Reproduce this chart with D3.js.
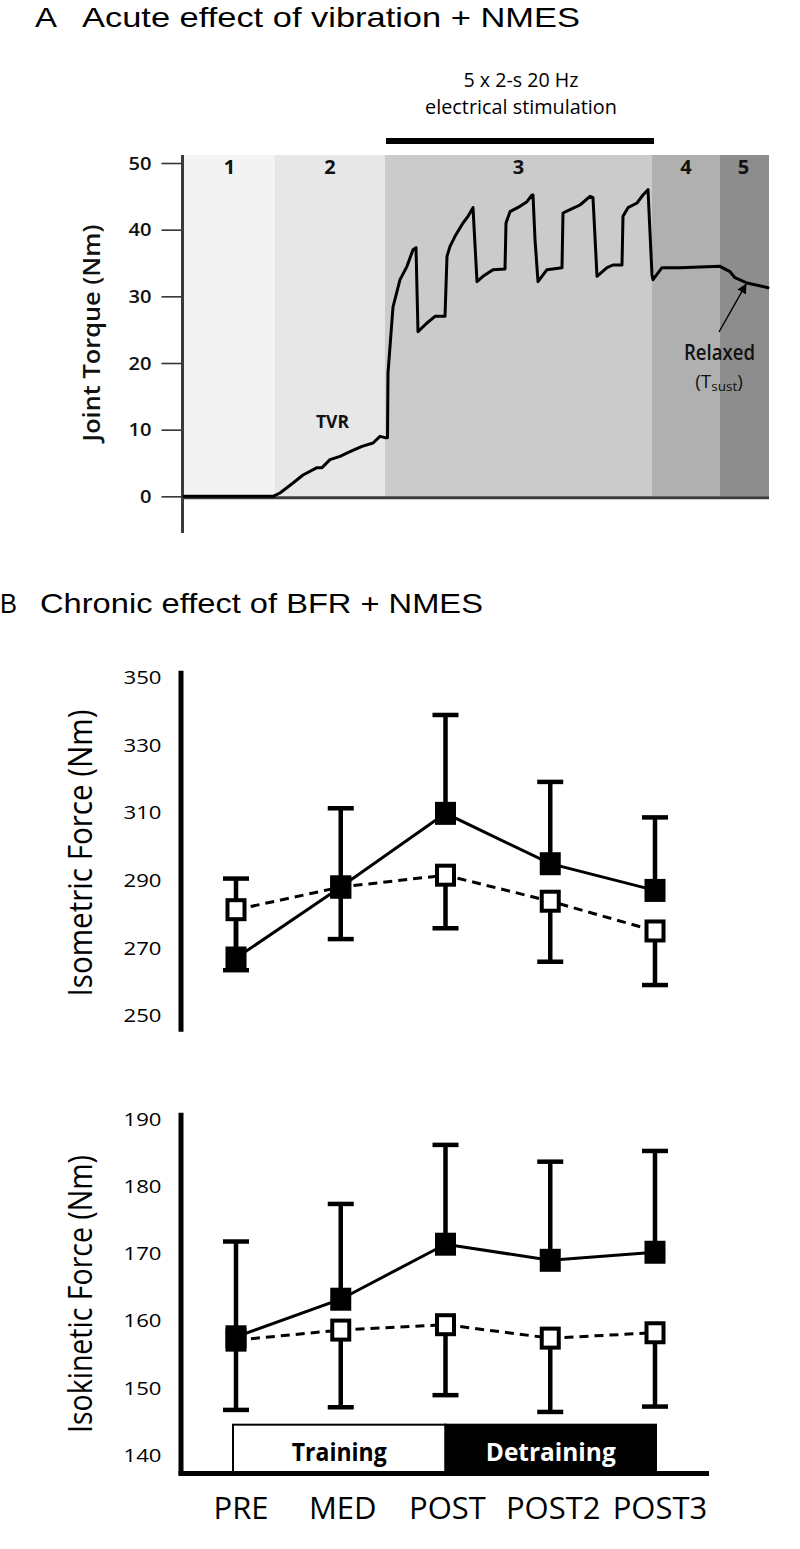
<!DOCTYPE html>
<html>
<head>
<meta charset="utf-8">
<script src="https://cdn.jsdelivr.net/npm/d3@7"></script>
<style>
  html, body { margin: 0; padding: 0; background: #fff; }
  svg { display: block; }
</style>
</head>
<body>
<svg id="chart" width="800" height="1549"></svg>
<script>
// ---------------- DATA ----------------
// Panel A: joint torque trace (time in s, torque in Nm)
const torqueTrace = [
  [0, 0], [8.9, 0], [9.6, 0.5], [10.9, 2], [11.9, 3.2], [13.3, 4.3], [13.8, 4.3], [14.6, 5.5],
  [15.6, 6], [16.6, 6.7], [17.8, 7.5], [18.9, 8], [19.6, 9], [20.1, 8.8], [20.35, 8.8],
  [20.4, 18.5], [20.9, 28.4], [21.6, 32.5], [22.3, 34.5], [22.9, 37], [23.2, 37.3],
  [23.4, 24.7], [24.3, 26], [25.1, 27], [26.1, 27],
  [26.3, 36], [26.6, 37.5], [27.1, 39], [27.9, 41], [28.4, 42], [28.9, 43.3],
  [29.3, 32.2], [29.9, 33], [30.9, 34], [32.1, 34.1],
  [32.2, 41], [32.6, 42.7], [33.6, 43.5], [34.3, 44.2], [34.8, 45.2], [34.9, 45.2],
  [35.1, 38.5], [35.4, 32.2], [36.3, 34], [37.8, 34.3],
  [37.9, 42.5], [38.6, 43], [39.6, 43.7], [40.6, 45], [40.9, 44.8],
  [41.3, 33], [42.3, 34.3], [42.9, 34.7], [43.8, 34.7],
  [43.9, 42], [44.4, 43.3], [45.3, 44], [45.9, 45.2], [46.4, 46],
  [46.8, 33.2], [46.9, 32.5], [47.8, 34.3], [49.6, 34.3], [53.6, 34.5], [54.6, 33.7],
  [55.1, 32.8], [56.3, 32], [58.4, 31.3]
];
const phaseLabels = ["1", "2", "3", "4", "5"];
const phaseBounds = [0, 9.1, 20.1, 46.8, 53.6, 58.5];
const phaseColors = ["#f3f3f3", "#e7e7e7", "#cbcbcb", "#b0b0b0", "#8d8d8d"];
const stimWindow = [20.2, 47.0];
const torqueTicks = [0, 10, 20, 30, 40, 50];
const relaxedPoint = [56.2, 31.8];

// Panel B
const timepoints = ["PRE", "MED", "POST", "POST2", "POST3"];
const isoBFR = [267.0, 288.0, 309.8, 294.9, 287.0];
const isoBFRsd = [23.5, 23.3, 29.1, 24.2, 21.6];
const isoCON = [281.3, 288.0, 291.5, 283.8, 275.0];
const isoCONsd = [17.9, 15.4, 15.7, 17.9, 16.0];
const isoTicks = [250, 270, 290, 310, 330, 350];

const isokBFR = [157.6, 163.2, 171.4, 169.0, 170.2];
const isokBFRsd = [14.2, 14.2, 14.8, 14.7, 15.1];
const isokCON = [157.1, 158.6, 159.4, 157.4, 158.2];
const isokCONsd = [10.4, 11.5, 10.5, 11.0, 11.0];
const isokTicks = [140, 150, 160, 170, 180, 190];

const periods = [
  { label: "Training", from: "PRE", to: "POST" },
  { label: "Detraining", from: "POST", to: "POST3" }
];

// ---------------- HELPERS ----------------
const FONT = "'Open Sans', 'Noto Sans', 'Liberation Sans', sans-serif";
const TITLE_FONT = "'Liberation Sans', Arial, sans-serif";
const svg = d3.select("#chart");

function txt(g, o) {
  const t = g.append("text")
    .attr("font-family", o.family || FONT)
    .attr("font-size", o.size)
    .attr("font-weight", o.weight || 400)
    .attr("text-anchor", o.anchor || "start")
    .attr("fill", o.fill || "#000")
    .text(o.text);
  let sx = 1;
  if (o.width) sx = o.width / t.node().getComputedTextLength();
  t.attr("transform", `translate(${o.x},${o.y}) rotate(${o.rotate || 0}) scale(${sx},1)`);
  return t;
}

// ================= PANEL A =================
const gA = svg.append("g");
const xA = d3.scaleLinear().domain([0, 58.5]).range([184, 769]);
const yA = d3.scaleLinear().domain([-5.5, 51.2]).range([533, 155]);

txt(gA, { x: 35, y: 27, text: "A", size: 28, family: TITLE_FONT, width: 22 });
txt(gA, { x: 82, y: 27, text: "Acute effect of vibration + NMES", size: 28, family: TITLE_FONT, width: 498 });

// phase shading
gA.selectAll("rect.phase").data(phaseLabels).join("rect")
  .attr("class", "phase")
  .attr("x", (d, i) => xA(phaseBounds[i]))
  .attr("width", (d, i) => xA(phaseBounds[i + 1]) - xA(phaseBounds[i]))
  .attr("y", yA(51.2))
  .attr("height", yA(0) - yA(51.2))
  .attr("fill", (d, i) => phaseColors[i]);

phaseLabels.forEach((d, i) => {
  txt(gA, { x: xA((phaseBounds[i] + phaseBounds[i + 1]) / 2) + (i === 4 ? -1 : 0), y: 174, text: d, size: 20, weight: 700, anchor: "middle", fill: "#111" });
});

// stimulation bar + label
gA.append("line")
  .attr("x1", xA(stimWindow[0])).attr("x2", xA(stimWindow[1]))
  .attr("y1", 141).attr("y2", 141)
  .attr("stroke", "#000").attr("stroke-width", 6);
txt(gA, { x: 521, y: 87, text: "5 x 2-s 20 Hz", size: 19.5, anchor: "middle", width: 115, fill: "#000" });
txt(gA, { x: 521, y: 114, text: "electrical stimulation", size: 19.5, anchor: "middle", width: 192, fill: "#000" });

// axes
const axA = d3.axisLeft(yA).tickValues(torqueTicks).tickSize(21).tickFormat("");
const gAy = gA.append("g").attr("transform", "translate(182.5,0)").call(axA);
gAy.select(".domain").remove();
gAy.selectAll(".tick line").attr("stroke", "#333").attr("stroke-width", 1.6);
gA.append("line").attr("x1", 182.5).attr("x2", 182.5).attr("y1", yA(51.2)).attr("y2", yA(-5.5))
  .attr("stroke", "#3a3a3a").attr("stroke-width", 3);
gA.append("line").attr("x1", 181).attr("x2", xA(58.5)).attr("y1", yA(0) + 1.5).attr("y2", yA(0) + 1.5)
  .attr("stroke", "#3a3a3a").attr("stroke-width", 3);
torqueTicks.forEach(v => {
  txt(gA, { x: 151.5, y: yA(v) + 6.6, text: String(v), size: 18.5, weight: 600, anchor: "end", fill: "#111", width: v === 0 ? 11.5 : 23 });
});
txt(gA, { x: 100, y: 333, text: "Joint Torque (Nm)", size: 24, weight: 600, anchor: "middle", rotate: -90, width: 217, fill: "#111" });

// trace
gA.append("path")
  .datum(torqueTrace)
  .attr("d", d3.line().x(d => xA(d[0])).y(d => yA(d[1])))
  .attr("fill", "none").attr("stroke", "#000").attr("stroke-width", 3)
  .attr("stroke-linejoin", "round").attr("stroke-linecap", "round");

txt(gA, { x: 332.5, y: 428, text: "TVR", size: 17.5, weight: 700, anchor: "middle", fill: "#111" });

// Relaxed annotation
const defs = svg.append("defs");
defs.append("marker").attr("id", "arrow").attr("viewBox", "0 0 10 10")
  .attr("refX", 9).attr("refY", 5).attr("markerWidth", 7).attr("markerHeight", 7)
  .attr("orient", "auto-start-reverse")
  .append("path").attr("d", "M0,0 L10,5 L0,10 z").attr("fill", "#000");
gA.append("line")
  .attr("x1", 719).attr("y1", 332)
  .attr("x2", xA(relaxedPoint[0])).attr("y2", yA(relaxedPoint[1]))
  .attr("stroke", "#000").attr("stroke-width", 1.4).attr("marker-end", "url(#arrow)");
txt(gA, { x: 719.5, y: 360, text: "Relaxed", size: 21, weight: 600, anchor: "middle", width: 71, fill: "#111" });
const tsust = gA.append("text").attr("font-family", FONT).attr("font-size", 19).attr("font-weight", 500)
  .attr("fill", "#111").attr("text-anchor", "middle").attr("transform", "translate(719,388)");
tsust.append("tspan").text("(T");
tsust.append("tspan").attr("font-size", 13.5).attr("dy", 3).text("sust");
tsust.append("tspan").attr("dy", -3).text(")");

// ================= PANEL B =================
const gB = svg.append("g");
txt(gB, { x: 0, y: 613, text: "B", size: 28, family: TITLE_FONT, width: 17 });
txt(gB, { x: 40, y: 613, text: "Chronic effect of BFR + NMES", size: 28, family: TITLE_FONT, width: 443 });

const xB = d3.scalePoint().domain(timepoints).range([236, 655]);

function panel(g, y, ticks, axisTop, axisBottom, label, labelCenter, labelLen, bfr, bfrSd, con, conSd) {
  // y axis line
  g.append("line").attr("x1", 181).attr("x2", 181).attr("y1", y(axisTop)).attr("y2", y(axisBottom))
    .attr("stroke", "#000").attr("stroke-width", 5);
  const ax = d3.axisLeft(y).tickValues(ticks).tickSize(0).tickFormat("");
  const ga = g.append("g").attr("transform", "translate(181,0)").call(ax);
  ga.select(".domain").remove();
  ticks.forEach(v => {
    txt(g, { x: 161.5, y: y(v) + 6.8, text: String(v), size: 19, anchor: "end", width: 38, fill: "#000" });
  });
  txt(g, { x: 92, y: labelCenter, text: label, size: 32, anchor: "middle", rotate: -90, width: labelLen, fill: "#000" });

  const capW = 13;
  // error bars: BFR upward, CON downward
  const eb = (vals, sds, dir) => {
    const gg = g.append("g").attr("stroke", "#000").attr("stroke-width", 4.5);
    gg.selectAll("line.v").data(vals).join("line").attr("class", "v")
      .attr("x1", (d, i) => xB(timepoints[i])).attr("x2", (d, i) => xB(timepoints[i]))
      .attr("y1", d => y(d)).attr("y2", (d, i) => y(d + dir * sds[i]));
    gg.selectAll("line.c").data(vals).join("line").attr("class", "c")
      .attr("x1", (d, i) => xB(timepoints[i]) - capW).attr("x2", (d, i) => xB(timepoints[i]) + capW)
      .attr("y1", (d, i) => y(d + dir * sds[i])).attr("y2", (d, i) => y(d + dir * sds[i]));
  };
  eb(bfr, bfrSd, 1);
  eb(con, conSd, -1);

  const line = d3.line().x((d, i) => xB(timepoints[i])).y(d => y(d));
  g.append("path").datum(con).attr("d", line).attr("fill", "none")
    .attr("stroke", "#000").attr("stroke-width", 3).attr("stroke-dasharray", "9,6");
  g.append("path").datum(bfr).attr("d", line).attr("fill", "none")
    .attr("stroke", "#000").attr("stroke-width", 3);

  g.selectAll("rect.con").data(con).join("rect").attr("class", "con")
    .attr("x", (d, i) => xB(timepoints[i]) - 8.5).attr("y", d => y(d) - 9.5)
    .attr("width", 17).attr("height", 19)
    .attr("fill", "#fff").attr("stroke", "#000").attr("stroke-width", 4);
  g.selectAll("rect.bfr").data(bfr).join("rect").attr("class", "bfr")
    .attr("x", (d, i) => xB(timepoints[i]) - 10.5).attr("y", d => y(d) - 11.5)
    .attr("width", 21).attr("height", 23)
    .attr("fill", "#000");
}

// top: isometric
const yIso = d3.scaleLinear().domain([245.2, 352.0]).range([1031.7, 670.7]);
const gTop = gB.append("g");
panel(gTop, yIso, isoTicks, 352.0, 245.2, "Isometric Force (Nm)", 853, 287,
  isoBFR, isoBFRsd, isoCON, isoCONsd);

// bottom: isokinetic
const yIsok = d3.scaleLinear().domain([137.0, 191.0]).range([1475, 1112.7]);
const gBot = gB.append("g");

// training / detraining band
periods.forEach((p, i) => {
  const x0 = xB(p.from) + (i === 0 ? -3 : 0);
  const x1 = xB(p.to) + (i === 0 ? 0 : 1);
  gBot.append("rect").attr("x", x0).attr("y", yIsok(144.5)).attr("width", x1 - x0)
    .attr("height", yIsok(137.3) - yIsok(144.5))
    .attr("fill", i === 0 ? "#fff" : "#000").attr("stroke", "#000").attr("stroke-width", 2);
  txt(gBot, { x: (x0 + x1) / 2, y: 1461, text: p.label, size: 25, weight: 700, anchor: "middle",
    fill: i === 0 ? "#000" : "#fff", width: i === 0 ? 95 : 130 });
});

panel(gBot, yIsok, isokTicks, 191.0, 137.0, "Isokinetic Force (Nm)", 1294, 278,
  isokBFR, isokBFRsd, isokCON, isokCONsd);

// x axis
gBot.append("line").attr("x1", 178.5).attr("x2", 709).attr("y1", 1473.5).attr("y2", 1473.5)
  .attr("stroke", "#000").attr("stroke-width", 5);
const axX = d3.axisBottom(xB).tickSize(0).tickFormat("");
const gx = gBot.append("g").attr("transform", "translate(0,1473.5)").call(axX);
gx.select(".domain").remove();
const labelShift = [5, 2, 2, 3, 5];
timepoints.forEach((t, i) => {
  txt(gBot, { x: xB(t) + labelShift[i], y: 1519, text: t, size: 31, anchor: "middle", fill: "#000" });
});
</script>
</body>
</html>
